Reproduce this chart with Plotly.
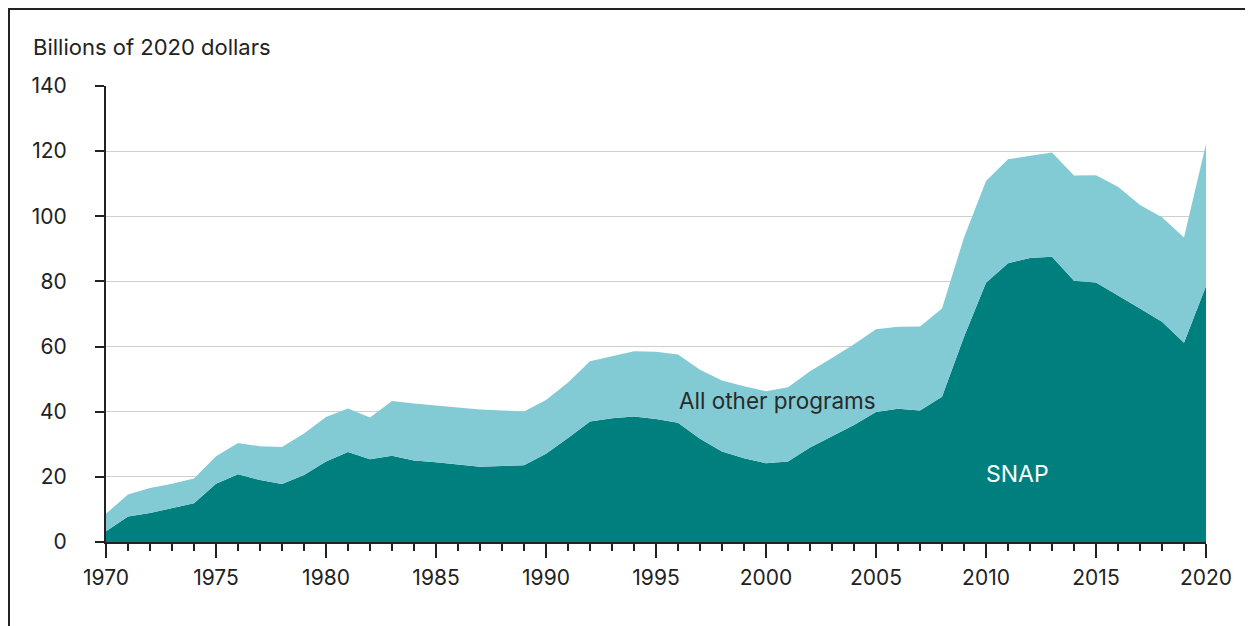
import plotly.graph_objects as go

years = list(range(1970, 2021))
snap = [3.3, 7.8, 8.9, 10.3, 11.9, 17.9, 20.8, 19.0, 17.8, 20.6,
        24.7, 27.6, 25.4, 26.5, 25.0, 24.5, 23.9, 23.1, 23.3, 23.6,
        27.1, 31.9, 37.0, 38.0, 38.5, 37.8, 36.6, 31.7, 27.8, 25.7,
        24.2, 24.7, 29.0, 32.5, 35.9, 39.9, 40.9, 40.4, 44.6, 63.0,
        79.6, 85.6, 87.2, 87.6, 80.2, 79.7, 75.8, 71.7, 67.6, 61.2, 78.6]
total = [8.7, 14.6, 16.6, 17.9, 19.5, 26.3, 30.4, 29.4, 29.2, 33.3,
         38.4, 41.0, 38.2, 43.3, 42.5, 41.9, 41.5, 40.7, 40.4, 40.1,
         43.6, 49.0, 55.5, 57.0, 58.6, 58.4, 57.6, 52.9, 49.6, 47.8,
         46.3, 47.5, 52.4, 56.5, 60.7, 65.3, 66.1, 66.2, 71.7, 93.5,
         110.8, 117.5, 118.6, 119.6, 112.5, 112.6, 109.1, 103.5, 99.7, 93.5, 122.2]
x_ticks = list(range(1970, 2021, 5))
y_ticks = list(range(0, 141, 20))

DARK = "#007f7f"
LIGHT = "#82cbd4"
FONT = "Inter"
INK = "#222222"

fig = go.Figure()
fig.add_trace(go.Scatter(x=years, y=snap, mode="lines", line=dict(width=0, color=DARK),
                         fill="tozeroy", fillcolor=DARK, name="SNAP", hoverinfo="x+y"))
fig.add_trace(go.Scatter(x=years, y=total, mode="lines", line=dict(width=0, color=LIGHT),
                         fill="tonexty", fillcolor=LIGHT, name="All other programs", hoverinfo="x+y"))

fig.update_layout(
    width=1253, height=626,
    margin=dict(l=98, r=55, t=78, b=92),
    paper_bgcolor="white", plot_bgcolor="white",
    showlegend=False,
    font=dict(family=FONT, size=21, color=INK),
    xaxis=dict(range=[1970, 2020], tickvals=x_ticks, ticks="outside", ticklen=14, tickwidth=2,
               tickcolor=INK, showline=True, linecolor=INK, linewidth=2,
               showgrid=False, zeroline=False, ticklabelstandoff=2,
               minor=dict(dtick=1, tick0=1970, ticks="outside", ticklen=7, tickwidth=2,
                          tickcolor=INK, showgrid=False),
               tickfont=dict(family=FONT, size=21, color=INK)),
    yaxis=dict(range=[0, 140], tickvals=y_ticks, ticks="outside", ticklen=9, tickwidth=2,
               tickcolor=INK, showline=True, linecolor=INK, linewidth=2,
               showgrid=True, gridcolor="#cfcfcf", gridwidth=1, zeroline=False,
               ticklabelstandoff=24,
               tickfont=dict(family=FONT, size=21, color=INK)),
    annotations=[
        dict(text="Billions of 2020 dollars", xref="paper", yref="paper",
             x=-0.068, y=1.0855, xanchor="left", yanchor="middle", showarrow=False,
             font=dict(family=FONT, size=22, color=INK)),
        dict(text="All other programs", x=2000.5, y=43.3, xref="x", yref="y",
             showarrow=False, font=dict(family=FONT, size=22.5, color="#2a2a2a")),
        dict(text="SNAP", x=2011.45, y=20.9, xref="x", yref="y",
             showarrow=False, font=dict(family=FONT, size=23, color="white")),
    ],
    shapes=[
        dict(type="line", xref="paper", yref="paper", x0=-0.0891, x1=1.2, y0=1.171, y1=1.171,
             line=dict(color=INK, width=4)),
        dict(type="line", xref="paper", yref="paper", x0=-0.0891, x1=-0.0891, y0=1.171, y1=-0.3,
             line=dict(color=INK, width=4)),
    ],
)

fig.write_html("out.html")
